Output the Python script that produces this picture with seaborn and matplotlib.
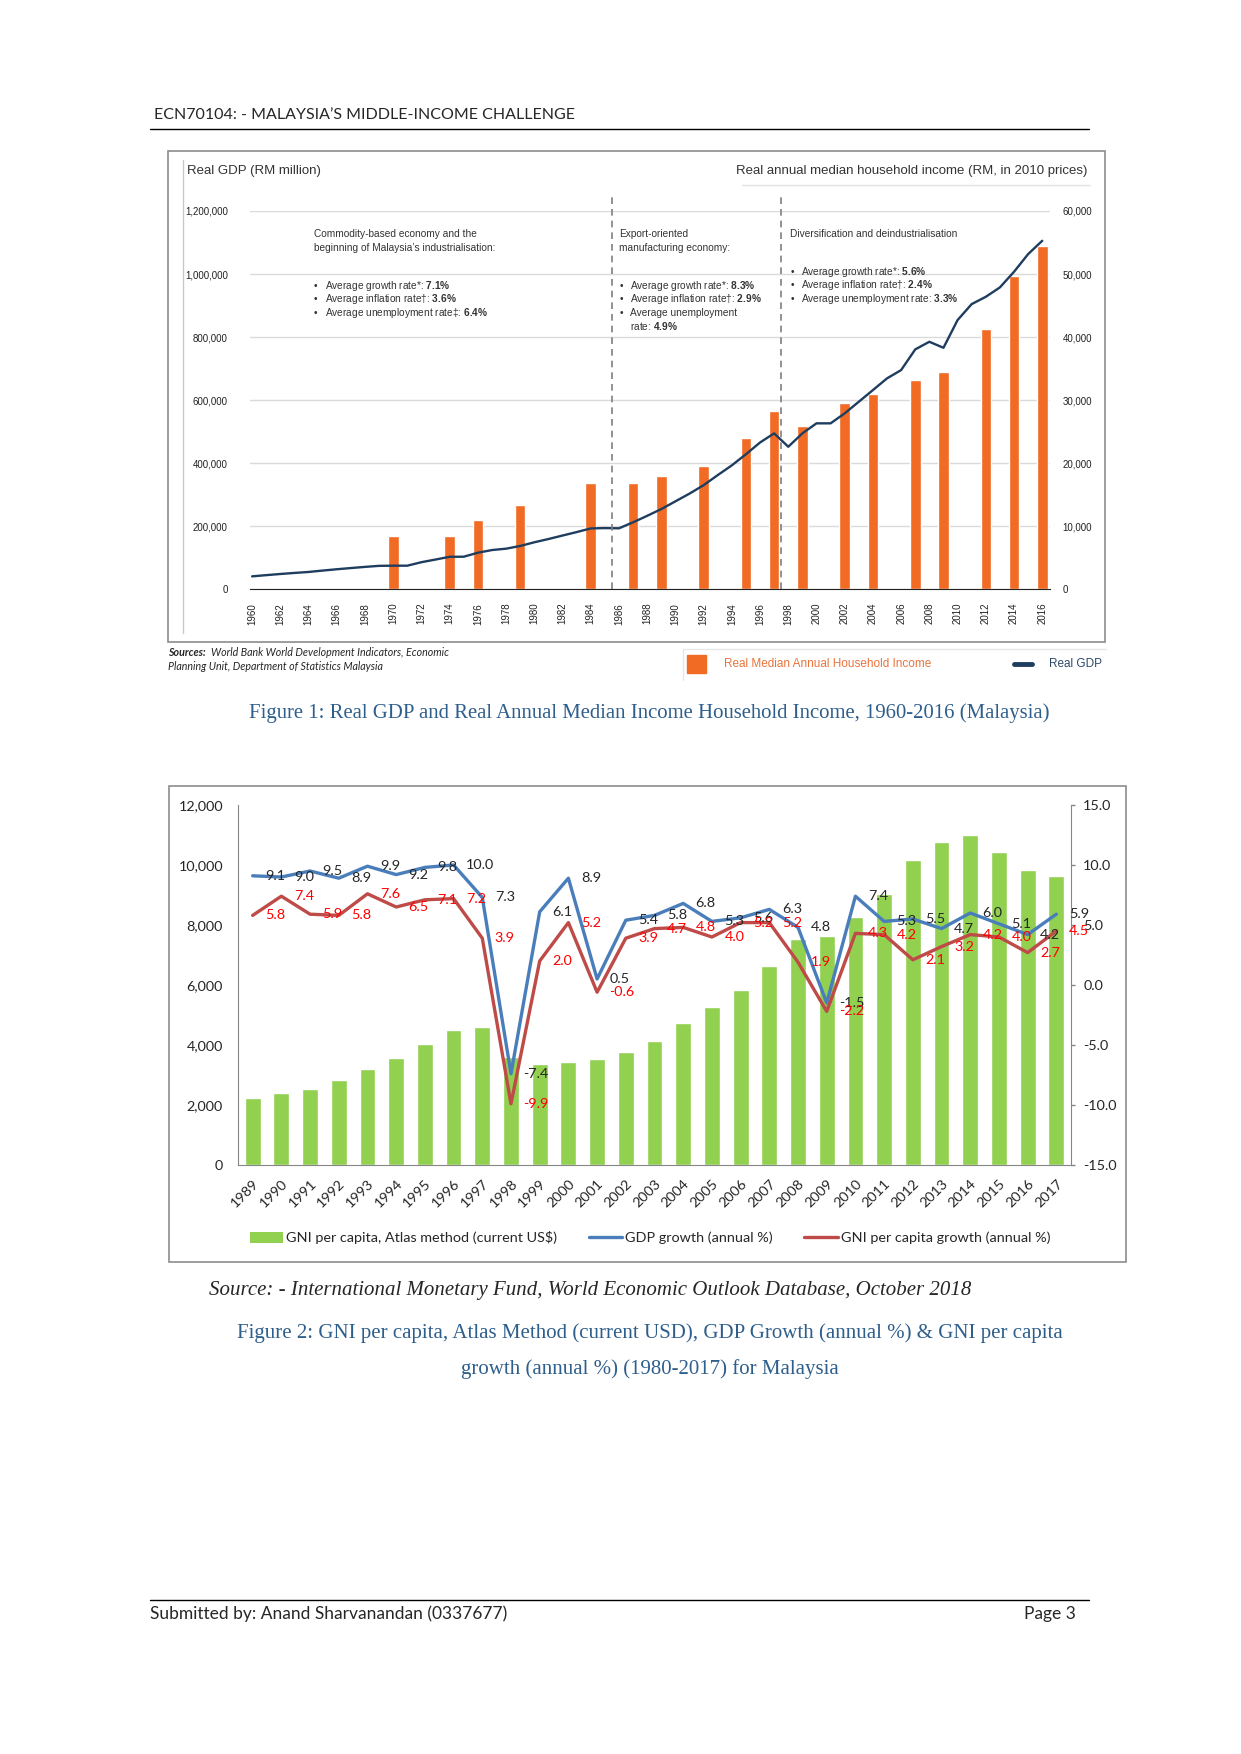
import numpy as np
import matplotlib
matplotlib.use('Agg')
import matplotlib.pyplot as plt
import seaborn as sns
from matplotlib import font_manager
from matplotlib.lines import Line2D
from matplotlib.patches import Rectangle, Patch
from matplotlib.transforms import Affine2D

W, H = 1241, 1754

# Figure 1: real GDP (line, left axis) and median household income (bars, right axis)
gdp_years = list(range(1960, 2017))
real_gdp = [41700, 45500, 49200, 52500, 55600, 60000, 64200, 68000, 71700, 75000,
            75500, 75500, 86600, 95000, 103700, 104000, 116600, 125100, 129400, 138000,
            149700, 160000, 171100, 182000, 193600, 194700, 194000, 213000, 233600, 255000,
            279500, 304000, 330700, 362700, 393600, 428800, 466100, 495000, 452600, 495000,
            526800, 526800, 558500, 595300, 632300, 669400, 695700, 761300, 785400, 766400,
            854200, 904900, 928000, 957800, 1007300, 1063400, 1105600]
income_years = [1970, 1974, 1976, 1979, 1984, 1987, 1989, 1992, 1995, 1997, 1999,
                2002, 2004, 2007, 2009, 2012, 2014, 2016]
median_income = [8500, 8500, 11000, 13400, 16900, 16900, 18000, 19600, 24000, 28300, 25900,
                 29600, 31000, 33200, 34500, 41300, 49700, 54400]

# Figure 2: GNI per capita (bars) and growth rates (lines)
years2 = [str(y) for y in range(1989, 2018)]
gni_pc = [2240, 2390, 2540, 2840, 3210, 3580, 4040, 4510, 4610, 3610, 3370, 3440, 3540, 3780,
          4140, 4740, 5280, 5830, 6640, 7530, 7640, 8280, 9040, 10160, 10780, 11000, 10440,
          9830, 9630]
gdp_growth = [9.1, 9.0, 9.5, 8.9, 9.9, 9.2, 9.8, 10.0, 7.3, -7.4, 6.1, 8.9, 0.5, 5.4, 5.8,
              6.8, 5.3, 5.6, 6.3, 4.8, -1.5, 7.4, 5.3, 5.5, 4.7, 6.0, 5.1, 4.2, 5.9]
gni_growth = [5.8, 7.4, 5.9, 5.8, 7.6, 6.5, 7.1, 7.2, 3.9, -9.9, 2.0, 5.2, -0.6, 3.9, 4.7,
              4.8, 4.0, 5.2, 5.2, 1.9, -2.2, 4.3, 4.2, 2.1, 3.2, 4.2, 4.0, 2.7, 4.5]

sns.set_style('white')
installed = {f.name for f in font_manager.fontManager.ttflist}
NARROW = 'Liberation Sans Narrow' if 'Liberation Sans Narrow' in installed else 'Liberation Sans'
CAL = 'Lato'
SERIF = 'Liberation Serif'
plt.rcParams['font.family'] = [NARROW, 'DejaVu Sans']
plt.rcParams['axes.unicode_minus'] = False
plt.rcParams['mathtext.fontset'] = 'custom'
plt.rcParams['mathtext.bf'] = NARROW + ':bold'
plt.rcParams['mathtext.rm'] = NARROW

ORANGE = '#F26B25'
NAVY = '#1F3D5F'
GREEN = '#92D050'
BLUE = '#4A7EBB'
RED = '#BE4B48'
CAPTION = '#2E5E8C'

fig = plt.figure(figsize=(W / 100, H / 100), dpi=100)
page = Affine2D().scale(1 / W, -1 / H).translate(0, 1) + fig.transFigure


def axes_px(x0, y0, x1, y1):
    return fig.add_axes([x0 / W, 1 - y1 / H, (x1 - x0) / W, (y1 - y0) / H])


def text_px(x, y, s, **kw):
    return fig.text(x, y, s, transform=page, **kw)


def line_px(xs, ys, **kw):
    fig.add_artist(Line2D(xs, ys, transform=page, **kw))


# page header / footer
text_px(154, 115, 'ECN70104: - MALAYSIA’S MIDDLE-INCOME CHALLENGE', family=CAL, fontsize=11.5, va='center')
line_px([150, 1089], [129, 129], color='black', lw=1)
line_px([150, 1089], [1600, 1600], color='black', lw=1)
text_px(150, 1614, 'Submitted by: Anand Sharvanandan (0337677)', family=CAL, fontsize=12.5, va='center')
text_px(1076, 1614, 'Page 3', family=CAL, fontsize=12.5, va='center', ha='right')

# ---------------- Figure 1 ----------------
fig.add_artist(Rectangle((168, 151), 937, 491, transform=page, fill=False, ec='#8C8C8C', lw=1.2))
line_px([183, 183], [160, 633], color='#C8C8C8', lw=1)
line_px([742, 1090], [185, 185], color='#E3E3E3', lw=1)

ax1 = axes_px(250, 211, 1050, 589.5)
ax1r = ax1.twinx()
sns.barplot(x=income_years, y=median_income, native_scale=True, width=0.375, color=ORANGE,
            saturation=1, errorbar=None, ax=ax1r)
sns.lineplot(x=gdp_years, y=real_gdp, color=NAVY, lw=1.7, ax=ax1)
ax1.set_zorder(ax1r.get_zorder() + 1)
ax1.patch.set_visible(False)

ax1.set_xlim(1959.85, 2016.55)
ax1.set_ylim(0, 1200000)
ax1r.set_ylim(0, 60000)
ax1.set_xticks(gdp_years)
ax1.set_xticklabels([str(y) if y % 2 == 0 else '' for y in gdp_years], rotation=90, fontsize=7)
ax1.tick_params(axis='x', direction='out', length=3.6, width=1, color='#222222', pad=6, labelcolor='#222222')
ax1.set_yticks(range(0, 1200001, 200000))
ax1.set_yticklabels([f'{v:,}' for v in range(0, 1200001, 200000)], fontsize=7)
ax1.tick_params(axis='y', length=0, pad=16, labelcolor='#222222')
ax1r.set_yticks(range(0, 60001, 10000))
ax1r.set_yticklabels([f'{v:,}' for v in range(0, 60001, 10000)], fontsize=7)
ax1r.tick_params(axis='y', length=0, pad=9, labelcolor='#222222')
ax1r.yaxis.grid(True, color='#DADADA', lw=1)
ax1r.set_axisbelow(True)
for s in ['top', 'left', 'right']:
    ax1.spines[s].set_visible(False)
ax1.spines['bottom'].set_color('#222222')
for s in ax1r.spines.values():
    s.set_visible(False)
for a in (ax1, ax1r):
    a.set_xlabel('')
    a.set_ylabel('')
ax1.vlines([1985.5, 1997.5], 0, 1257000, colors='#7F7F7F', linestyles=(0, (4, 3)), lw=1.2, clip_on=False)

text_px(187, 171, 'Real GDP (RM million)', fontsize=9.5, color='#333333', va='center')
text_px(1087, 171, 'Real annual median household income (RM, in 2010 prices)', fontsize=9.5,
        color='#333333', va='center', ha='right')

note = dict(fontsize=7.3, color='#333333', va='center')
text_px(314, 234, 'Commodity-based economy and the', **note)
text_px(314, 248, 'beginning of Malaysia’s industrialisation:', **note)
col1 = ['Average growth rate*: $\\mathbf{7.1\\%}$', 'Average inflation rate†: $\\mathbf{3.6\\%}$',
        'Average unemployment rate‡: $\\mathbf{6.4\\%}$']
for i, s in enumerate(col1):
    y = 285.7 + 13.5 * i
    text_px(314, y, '•', **note)
    text_px(325, y, s, **note)

text_px(619, 234, 'Export-oriented', **note)
text_px(619, 248, 'manufacturing economy:', **note)
col2 = ['Average growth rate*: $\\mathbf{8.3\\%}$', 'Average inflation rate†: $\\mathbf{2.9\\%}$',
        'Average unemployment']
for i, s in enumerate(col2):
    y = 285.7 + 13.5 * i
    text_px(620, y, '•', **note)
    text_px(630, y, s, **note)
text_px(630, 326, 'rate: $\\mathbf{4.9\\%}$', **note)

text_px(790, 234, 'Diversification and deindustrialisation', **note)
col3 = ['Average growth rate*: $\\mathbf{5.6\\%}$', 'Average inflation rate†: $\\mathbf{2.4\\%}$',
        'Average unemployment rate: $\\mathbf{3.3\\%}$']
for i, s in enumerate(col3):
    y = 271.7 + 13.5 * i
    text_px(791, y, '•', **note)
    text_px(801, y, s, **note)

# sources and legend under figure 1
text_px(168, 652, 'Sources:', family=CAL, fontsize=7.7, style='italic', fontweight='bold', va='center')
text_px(211, 652, 'World Bank World Development Indicators, Economic', family=CAL, fontsize=7.7,
        style='italic', va='center')
text_px(168, 666.5, 'Planning Unit, Department of Statistics Malaysia', family=CAL, fontsize=7.7,
        style='italic', va='center')
line_px([683, 1106], [649, 649], color='#E6E6E6', lw=1)
line_px([683, 683], [649, 680], color='#E6E6E6', lw=1)
fig.add_artist(Rectangle((687, 655), 19, 18, transform=page, color=ORANGE))
text_px(724, 664, 'Real Median Annual Household Income', color='#E8743B', fontsize=8.5, va='center')
line_px([1014, 1032], [664, 664], color=NAVY, lw=3.5, solid_capstyle='round')
text_px(1049, 664, 'Real GDP', color='#2B4A6B', fontsize=8.5, va='center')

text_px(649, 713, 'Figure 1: Real GDP and Real Annual Median Income Household Income, 1960-2016 (Malaysia)',
        family=SERIF, fontsize=14.95, color=CAPTION, ha='center', va='center')

# ---------------- Figure 2 ----------------
fig.add_artist(Rectangle((169, 786), 957, 476, transform=page, fill=False, ec='#8C8C8C', lw=1.2))

ax2 = axes_px(238.3, 805, 1070.7, 1165)
sns.barplot(x=years2, y=gni_pc, color=GREEN, saturation=1, width=0.55, errorbar=None, ax=ax2)
ax2r = ax2.twinx()
pos = np.arange(len(years2))
sns.lineplot(x=pos, y=gdp_growth, color=BLUE, lw=2.4, ax=ax2r)
sns.lineplot(x=pos, y=gni_growth, color=RED, lw=2.4, ax=ax2r)

FS2 = 10.4
ax2.set_xlim(-0.5, 28.5)
ax2.set_ylim(0, 12000)
ax2r.set_ylim(-15, 15)
ax2.set_yticks(range(0, 12001, 2000))
ax2.set_yticklabels([f'{v:,}' for v in range(0, 12001, 2000)], family=CAL, fontsize=FS2)
ax2.tick_params(axis='y', length=0, pad=11, labelcolor='#262626')
ax2.set_xticks(pos)
ax2.set_xticklabels(years2, rotation=45, ha='right', va='top', rotation_mode='anchor',
                    family=CAL, fontsize=FS2)
ax2.tick_params(axis='x', length=0, pad=9, labelcolor='#262626')
ax2r.set_yticks(np.arange(-15, 16, 5))
ax2r.set_yticklabels([f'{v:.1f}' for v in np.arange(-15, 16, 5)], family=CAL, fontsize=FS2)
ax2r.tick_params(axis='y', direction='out', length=3, width=1, color='#868686', pad=6, labelcolor='#262626')
for a in (ax2, ax2r):
    a.set_xlabel('')
    a.set_ylabel('')
    for s in a.spines.values():
        s.set_visible(False)
        s.set_color('#868686')
ax2.spines['left'].set_visible(True)
ax2.spines['bottom'].set_visible(True)
ax2r.spines['right'].set_visible(True)

for x, v in zip(pos, gdp_growth):
    ax2r.annotate(f'{v:.1f}', (x, v), xytext=(9, 0), textcoords='offset points', ha='left', va='center',
                  family=CAL, fontsize=FS2, color='#262626', zorder=5)
for x, v in zip(pos, gni_growth):
    ax2r.annotate(f'{v:.1f}', (x, v), xytext=(9, 0), textcoords='offset points', ha='left', va='center',
                  family=CAL, fontsize=FS2, color='#FF0000', zorder=5)

handles = [Patch(facecolor=GREEN, edgecolor='none'), Line2D([], [], color=BLUE, lw=2.4),
           Line2D([], [], color=RED, lw=2.4)]
labels = ['GNI per capita, Atlas method (current US$)', 'GDP growth (annual %)',
          'GNI per capita growth (annual %)']
fig.legend(handles, labels, loc='center', bbox_to_anchor=(650 / W, 1 - 1238 / H), ncol=3, frameon=False,
           prop={'family': CAL, 'size': FS2}, handlelength=2.3, handletextpad=0.2, columnspacing=2.2)

text_px(209, 1290, 'Source: - International Monetary Fund, World Economic Outlook Database, October 2018',
        family=SERIF, style='italic', fontsize=15, va='center')
text_px(649.5, 1333, 'Figure 2: GNI per capita, Atlas Method (current USD), GDP Growth (annual %) & GNI per capita',
        family=SERIF, fontsize=15.05, color=CAPTION, ha='center', va='center')
text_px(649.5, 1369, 'growth (annual %) (1980-2017) for Malaysia',
        family=SERIF, fontsize=15.05, color=CAPTION, ha='center', va='center')

fig.savefig('out.png', dpi=100, facecolor='white')
